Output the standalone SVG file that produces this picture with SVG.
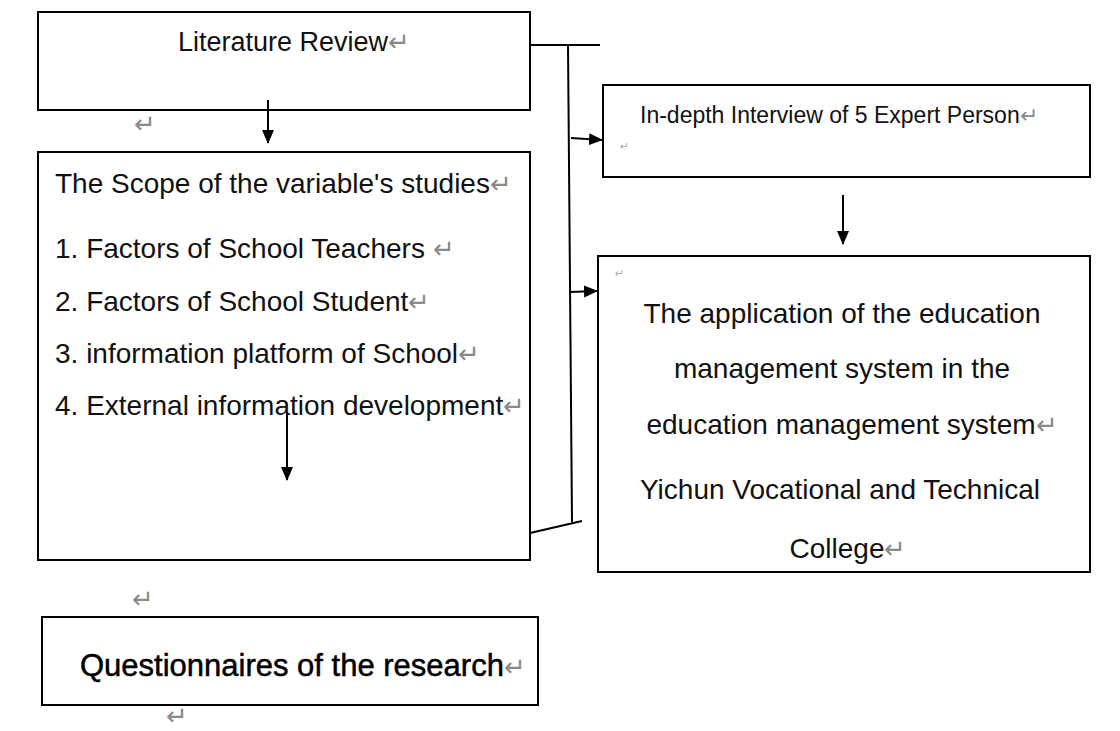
<svg xmlns="http://www.w3.org/2000/svg" width="1120" height="731" viewBox="0 0 1120 731">
<style>
.box{fill:#fff;stroke:#000;stroke-width:2}
.t{font-family:"Liberation Sans",Arial,sans-serif;fill:#111;font-size:28px}
.m{font-family:"Noto Sans CJK SC","DejaVu Sans",sans-serif;font-weight:300;fill:#8a8a8a;font-size:26px}
.ms{font-family:"DejaVu Sans",sans-serif;fill:#aaa;font-size:11px}
.ln{fill:none;stroke:#000;stroke-width:2}
</style>
<defs>
<marker id="ahb" markerWidth="14" markerHeight="14" refX="13" refY="7" orient="auto" markerUnits="userSpaceOnUse" viewBox="0 0 14 14"><path d="M0,1 L14,7 L0,13 z" fill="#000"/></marker>
</defs>
<rect width="1120" height="731" fill="#fff"/>
<g id="literature-review">
<rect class="box" x="38" y="12" width="492" height="98"/>
<text class="t" x="178" y="51" style="font-size:27px">Literature Review<tspan class="m">↵</tspan></text>
</g>
<g id="scope">
<rect class="box" x="38" y="152" width="492" height="408"/>
<text class="t" x="55" y="193">The Scope of the variable's studies<tspan class="m">↵</tspan></text>
<text class="t" x="55" y="258">1. Factors of School Teachers <tspan class="m">↵</tspan></text>
<text class="t" x="55" y="311">2. Factors of School Student<tspan class="m">↵</tspan></text>
<text class="t" x="55" y="363">3. information platform of School<tspan class="m">↵</tspan></text>
<text class="t" x="55" y="415">4. External information development<tspan class="m">↵</tspan></text>
</g>
<g id="interview">
<rect class="box" x="603" y="85" width="487" height="92"/>
<text class="t" x="640" y="123" style="font-size:23px">In-depth Interview of 5 Expert Person<tspan class="m" style="font-size:22px">↵</tspan></text>
<text class="ms" x="620" y="150">↵</text>
</g>
<g id="application">
<rect class="box" x="598" y="256" width="492" height="316"/>
<text class="ms" x="615" y="277">↵</text>
<text class="t" x="842" y="323" text-anchor="middle">The application of the education</text>
<text class="t" x="842" y="378" text-anchor="middle">management system in the</text>
<text class="t" x="852" y="434" text-anchor="middle">education management system<tspan class="m">↵</tspan></text>
<text class="t" x="840" y="499" text-anchor="middle">Yichun Vocational and Technical</text>
<text class="t" x="848" y="558" text-anchor="middle">College<tspan class="m">↵</tspan></text>
</g>
<g id="questionnaires">
<rect class="box" x="42" y="617" width="496" height="88"/>
<text class="t" x="80" y="676" style="font-size:31px;fill:#000;stroke:#000;stroke-width:0.5">Questionnaires of the research<tspan class="m" style="stroke:none">↵</tspan></text>
</g>
<g id="marks">
<text class="m" x="134" y="133">↵</text>
<text class="m" x="132" y="608">↵</text>
<text class="m" x="166" y="725">↵</text>
</g>
<g id="connectors">
<line class="ln" x1="268" y1="100" x2="268" y2="143" marker-end="url(#ahb)"/>
<line class="ln" x1="287" y1="412" x2="287" y2="480" marker-end="url(#ahb)"/>
<polyline class="ln" points="530,45 600,45"/>
<line class="ln" x1="568" y1="45" x2="572" y2="522"/>
<line class="ln" x1="530" y1="533" x2="582" y2="521"/>
<line class="ln" x1="571" y1="138" x2="602" y2="140" marker-end="url(#ahb)"/>
<line class="ln" x1="570" y1="292" x2="597" y2="291" marker-end="url(#ahb)"/>
<line class="ln" x1="843" y1="195" x2="843" y2="244" marker-end="url(#ahb)"/>
</g>
</svg>
